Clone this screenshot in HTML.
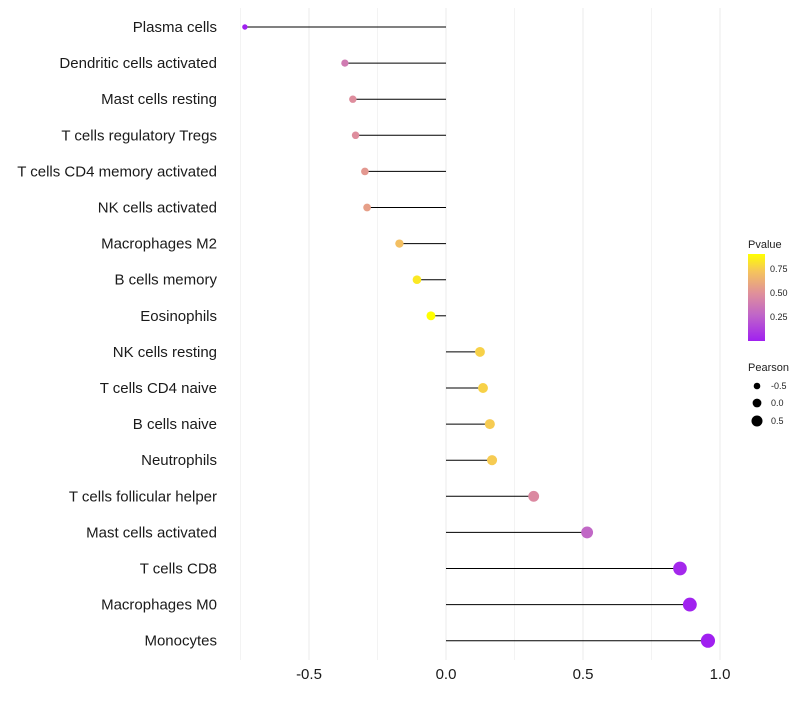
<!DOCTYPE html>
<html><head><meta charset="utf-8"><style>
body{margin:0;background:#fff;font-family:"Liberation Sans",sans-serif}
</style></head><body>
<svg id="chart" width="800" height="700" xmlns="http://www.w3.org/2000/svg">
<defs><linearGradient id="pg" x1="0" y1="1" x2="0" y2="0">
<stop offset="0" stop-color="#a020f0"/><stop offset="0.3" stop-color="#c066c8"/><stop offset="0.55" stop-color="#e0909a"/><stop offset="0.8" stop-color="#f5c45c"/><stop offset="1" stop-color="#ffff00"/></linearGradient></defs>
<g id="grid"></g><g id="marks"></g><g id="labels"></g><g id="legend"></g>
</svg>
<script>
const categories=["Plasma cells","Dendritic cells activated","Mast cells resting","T cells regulatory  Tregs ","T cells CD4 memory activated","NK cells activated","Macrophages M2","B cells memory","Eosinophils","NK cells resting","T cells CD4 naive","B cells naive","Neutrophils","T cells follicular helper","Mast cells activated","T cells CD8","Macrophages M0","Monocytes"];
const pearson=[-0.734,-0.369,-0.34,-0.33,-0.296,-0.288,-0.17,-0.106,-0.055,0.124,0.135,0.16,0.168,0.32,0.515,0.854,0.89,0.956];
const pvalue=[0.01,0.4,0.5,0.5,0.55,0.58,0.72,0.85,0.95,0.78,0.78,0.76,0.76,0.48,0.3,0.05,0.03,0.02];
const xTicks=[-0.5,0,0.5,1];
const xTickLabels=["-0.5","0.0","0.5","1.0"];
const NS="http://www.w3.org/2000/svg";
const x=v=>446+v*274;
const y=i=>27+i*36.1;
const rad=v=>Math.max(1.6,4.6+2.6*v);
const stops=[[0,[160,32,240]],[0.3,[192,102,200]],[0.55,[224,144,154]],[0.8,[245,196,92]],[1,[255,255,0]]];
function col(p){let t=Math.min(1,Math.max(0,(p-0.02)/0.9));for(let k=1;k<stops.length;k++){if(t<=stops[k][0]){const a=stops[k-1],b=stops[k];const f=(t-a[0])/(b[0]-a[0]);const c=a[1].map((v,j)=>Math.round(v+(b[1][j]-v)*f));return `rgb(${c})`;}}return "rgb(255,255,0)";}
function mk(tag,at,parent){const e=document.createElementNS(NS,tag);for(const k in at)e.setAttribute(k,at[k]);document.getElementById(parent).appendChild(e);return e;}
const g=[-0.75,-0.5,-0.25,0,0.25,0.5,0.75,1];
g.forEach(v=>{const l=mk("line",{x1:x(v),x2:x(v),y1:8,y2:660,stroke:"#ebebeb","stroke-width":Number.isInteger(v*2)?1:0.6},"grid");

});
xTicks.forEach((v,i)=>{const t=mk("text",{x:x(v),y:679,"text-anchor":"middle","font-size":15,fill:"#1a1a1a"},"labels");t.textContent=xTickLabels[i];

});
categories.forEach((c,i)=>{
const t=mk("text",{x:217,y:y(i)+5,"text-anchor":"end","font-size":15,fill:"#1a1a1a"},"labels");t.textContent=c;


const l=mk("line",{x1:x(0),x2:x(pearson[i]),y1:y(i),y2:y(i),stroke:"#000","stroke-width":1},"marks");


const d=mk("circle",{cx:x(pearson[i]),cy:y(i),r:rad(pearson[i]),fill:col(pvalue[i])},"marks");


});
let e=mk("text",{x:748,y:248,"font-size":11,fill:"#222"},"legend");e.textContent="Pvalue";


e=mk("rect",{x:748,y:254,width:17,height:87,fill:"url(#pg)"},"legend");


[[0.75,269],[0.5,293],[0.25,317]].forEach(([v,yy])=>{
const t=mk("text",{x:770,y:yy+3,"font-size":9,fill:"#222"},"legend");t.textContent=v.toFixed(2);

});
e=mk("text",{x:748,y:371,"font-size":11,fill:"#222"},"legend");e.textContent="Pearson";


[[-0.5,386],[0,403],[0.5,421]].forEach(([v,yy])=>{
const c=mk("circle",{cx:757,cy:yy,r:rad(v)*0.85+0.5,fill:"#000"},"legend");


const t=mk("text",{x:771,y:yy+3,"font-size":9,fill:"#222"},"legend");t.textContent=v.toFixed(1);

});
</script>
</body></html>
